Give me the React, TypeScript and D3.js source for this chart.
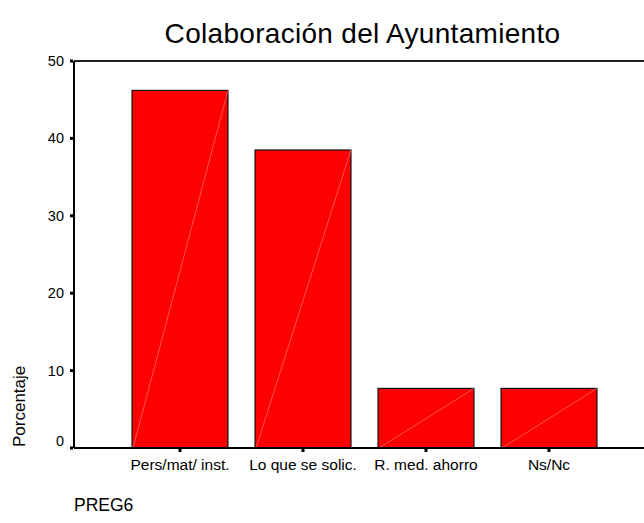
import React from "react";
import * as d3 from "d3";

const categories = ["Pers/mat/ inst.", "Lo que se solic.", "R. med. ahorro", "Ns/Nc"];
const values = [46.2, 38.5, 7.7, 7.7];
const yTicks = [0, 10, 20, 30, 40, 50];
const title = "Colaboración del Ayuntamiento";
const yLabel = "Porcentaje";
const xLabel = "PREG6";

const W = 644;
const H = 523;
const left = 74;
const top = 61;
const bottom = 448;
const right = 644;
const font = "'Liberation Sans', Arial, Helvetica, sans-serif";

export default function App() {
  const y = d3.scaleLinear().domain([0, 50]).range([bottom, top]);
  const x = d3
    .scaleBand<string>()
    .domain(categories)
    .range([118.5, 610.5])
    .paddingInner(0.22)
    .paddingOuter(0.11);

  return (
    <svg
      width={W}
      height={H}
      style={{ position: "fixed", left: 0, top: 0, background: "#fff" }}
      fontFamily={font}
    >
      <rect x={0} y={0} width={W} height={H} fill="#fff" />
      <text
        x={362.5}
        y={43}
        textAnchor="middle"
        fontSize={28}
        letterSpacing={0.3}
        fill="#000"
      >
        {title}
      </text>

      {categories.map((c, i) => {
        const x0 = x(c)!;
        const bw = x.bandwidth();
        const yt = y(values[i]);
        return (
          <g key={c}>
            <rect x={x0} y={yt} width={bw} height={y(0) - yt} fill="#ff0000" stroke="#111" strokeWidth={1.2} />
            <line x1={x0 + 1} y1={y(0)} x2={x0 + bw} y2={yt} stroke="#ff8c8c" strokeWidth={0.6} />
          </g>
        );
      })}

      {/* frame */}
      <line x1={left} y1={top} x2={right} y2={top} stroke="#222" strokeWidth={2} />
      <line x1={left} y1={top} x2={left} y2={bottom} stroke="#000" strokeWidth={2} />
      <line x1={left} y1={bottom} x2={right} y2={bottom} stroke="#000" strokeWidth={2} />

      {/* y ticks */}
      {yTicks.map((t) => (
        <g key={t}>
          <rect x={left - 4} y={y(t) - 1.5} width={3} height={3} fill="#000" />
          <text
            x={64}
            y={y(t) + (t === 0 ? -7 : 0)}
            dy="0.35em"
            textAnchor="end"
            fontSize={14.5}
            fill="#000"
          >
            {t}
          </text>
        </g>
      ))}

      {/* x ticks */}
      {categories.map((c) => {
        const cx = x(c)! + x.bandwidth() / 2;
        return (
          <g key={c}>
            <rect x={cx - 1.5} y={bottom + 1} width={3} height={3} fill="#000" />
            <text x={cx} y={470} textAnchor="middle" fontSize={15.5} fill="#000">
              {c}
            </text>
          </g>
        );
      })}

      <text
        transform={`translate(25,447) rotate(-90)`}
        textAnchor="start"
        fontSize={17}
        fill="#000"
      >
        {yLabel}
      </text>
      <text x={74} y={511} fontSize={17.5} fill="#000">
        {xLabel}
      </text>
    </svg>
  );
}
